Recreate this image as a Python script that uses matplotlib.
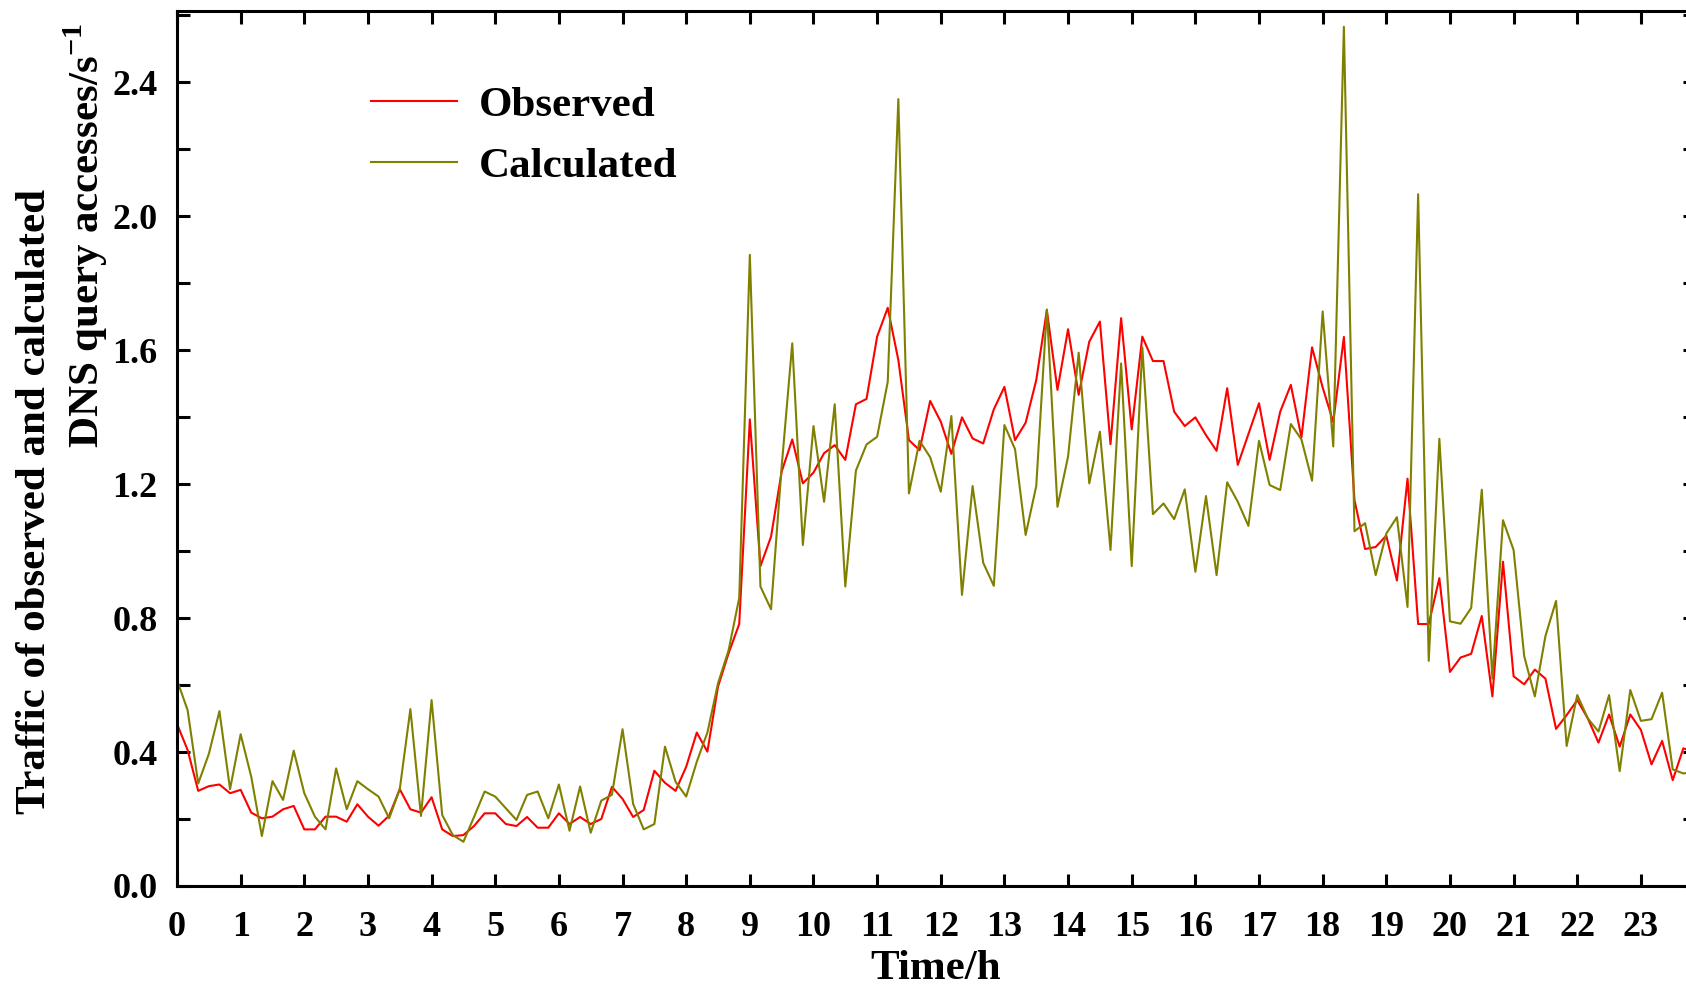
import matplotlib
matplotlib.use('Agg')
import matplotlib.pyplot as plt
from matplotlib.ticker import MultipleLocator
import numpy as np

# 10-minute samples, 0h .. 23h50
hours = np.arange(144) / 6.0

observed = [
    0.484, 0.406, 0.284, 0.298, 0.303, 0.277, 0.287, 0.219, 0.202, 0.207, 0.229, 0.239,
    0.169, 0.169, 0.207, 0.207, 0.192, 0.244, 0.207, 0.180, 0.210, 0.289, 0.229, 0.219,
    0.265, 0.169, 0.149, 0.152, 0.179, 0.217, 0.217, 0.185, 0.179, 0.206, 0.174, 0.174,
    0.217, 0.185, 0.206, 0.185, 0.200, 0.296, 0.260, 0.206, 0.227, 0.344, 0.308, 0.284,
    0.356, 0.458, 0.401, 0.595, 0.695, 0.782, 1.393, 0.955, 1.043, 1.237, 1.333, 1.202,
    1.234, 1.292, 1.316, 1.272, 1.438, 1.454, 1.640, 1.726, 1.570, 1.331, 1.301, 1.448,
    1.386, 1.290, 1.399, 1.336, 1.321, 1.423, 1.490, 1.331, 1.383, 1.510, 1.719, 1.481,
    1.662, 1.466, 1.625, 1.685, 1.319, 1.695, 1.363, 1.640, 1.567, 1.567, 1.416, 1.373,
    1.399, 1.346, 1.299, 1.486, 1.257, 1.349, 1.441, 1.272, 1.416, 1.496, 1.339, 1.608,
    1.488, 1.385, 1.639, 1.152, 1.006, 1.012, 1.046, 0.912, 1.216, 0.782, 0.782, 0.919,
    0.639, 0.682, 0.693, 0.806, 0.566, 0.968, 0.626, 0.602, 0.646, 0.619, 0.469, 0.510,
    0.555, 0.500, 0.428, 0.512, 0.416, 0.512, 0.466, 0.363, 0.433, 0.316, 0.411, 0.400,
]

calculated = [
    0.615, 0.525, 0.306, 0.394, 0.522, 0.289, 0.453, 0.326, 0.149, 0.313, 0.257, 0.404,
    0.277, 0.207, 0.169, 0.351, 0.229, 0.313, 0.289, 0.267, 0.202, 0.289, 0.528, 0.209,
    0.555, 0.212, 0.152, 0.132, 0.206, 0.282, 0.267, 0.232, 0.197, 0.272, 0.282, 0.202,
    0.303, 0.165, 0.297, 0.159, 0.255, 0.272, 0.468, 0.245, 0.169, 0.185, 0.416, 0.311,
    0.267, 0.371, 0.458, 0.605, 0.704, 0.860, 1.884, 0.894, 0.826, 1.252, 1.620, 1.018,
    1.373, 1.147, 1.438, 0.894, 1.240, 1.318, 1.341, 1.505, 2.349, 1.172, 1.329, 1.280,
    1.177, 1.403, 0.869, 1.194, 0.965, 0.896, 1.376, 1.304, 1.048, 1.194, 1.721, 1.132,
    1.282, 1.592, 1.202, 1.356, 1.003, 1.560, 0.955, 1.608, 1.110, 1.142, 1.095, 1.184,
    0.938, 1.164, 0.928, 1.205, 1.147, 1.075, 1.329, 1.197, 1.182, 1.379, 1.333, 1.210,
    1.715, 1.312, 2.565, 1.059, 1.083, 0.928, 1.052, 1.101, 0.833, 2.065, 0.672, 1.335,
    0.790, 0.783, 0.830, 1.183, 0.619, 1.092, 1.003, 0.686, 0.566, 0.746, 0.851, 0.418,
    0.570, 0.500, 0.461, 0.570, 0.343, 0.585, 0.493, 0.498, 0.577, 0.348, 0.336, 0.340,
]

xticks = list(range(0, 24))

plt.rcParams['font.family'] = ['Liberation Serif', 'DejaVu Serif']
plt.rcParams['font.weight'] = 'bold'
plt.rcParams['mathtext.fontset'] = 'custom'
plt.rcParams['mathtext.rm'] = 'Liberation Serif:bold'
plt.rcParams['mathtext.bf'] = 'Liberation Serif:bold'

fig = plt.figure(figsize=(16.86, 9.89), dpi=100)
# right spine sits just outside the picture, like the cropped original
ax = fig.add_axes([177 / 1686, 1 - 886 / 989, (1695 - 177) / 1686, (886 - 11) / 989])

ax.plot(hours, observed, color='#ff0000', lw=1.5, label='Observed')
ax.plot(hours, calculated, color='#808000', lw=1.5, label='Calculated')

ax.set_xlim(0, 23.85)
ax.set_ylim(0, 2.612)
ax.set_xticks(xticks)
ax.yaxis.set_major_locator(MultipleLocator(0.4))
ax.yaxis.set_minor_locator(MultipleLocator(0.2))
ax.yaxis.set_major_formatter(plt.FormatStrFormatter('%.1f'))

for s in ax.spines.values():
    s.set_linewidth(2.2)
ax.tick_params(which='both', direction='in', length=9, width=2.2,
               top=True, right=True, labelsize=26)
ax.tick_params(axis='x', pad=18)
ax.tick_params(axis='y', pad=14)
for lab in ax.get_xticklabels() + ax.get_yticklabels():
    lab.set_fontweight('bold')

ax.set_xlabel('Time/h', fontsize=31, fontweight='bold', labelpad=4)
fig.text(35 / 1686, 1 - 501 / 989, 'Traffic of observed and calculated',
         rotation=90, ha='center', va='center', fontsize=31, fontweight='bold')
fig.text(86 / 1686, 1 - 236 / 989, 'DNS query accesses/s$^{\\mathrm{-1}}$',
         rotation=90, ha='center', va='center', fontsize=31, fontweight='bold')

ax.legend(loc='upper left', bbox_to_anchor=(0.128, 0.914), frameon=False,
          handlelength=2.0, handletextpad=0.5, labelspacing=0.5,
          borderpad=0, borderaxespad=0, prop={'weight': 'bold', 'size': 31})

fig.savefig('out.png', dpi=100)
